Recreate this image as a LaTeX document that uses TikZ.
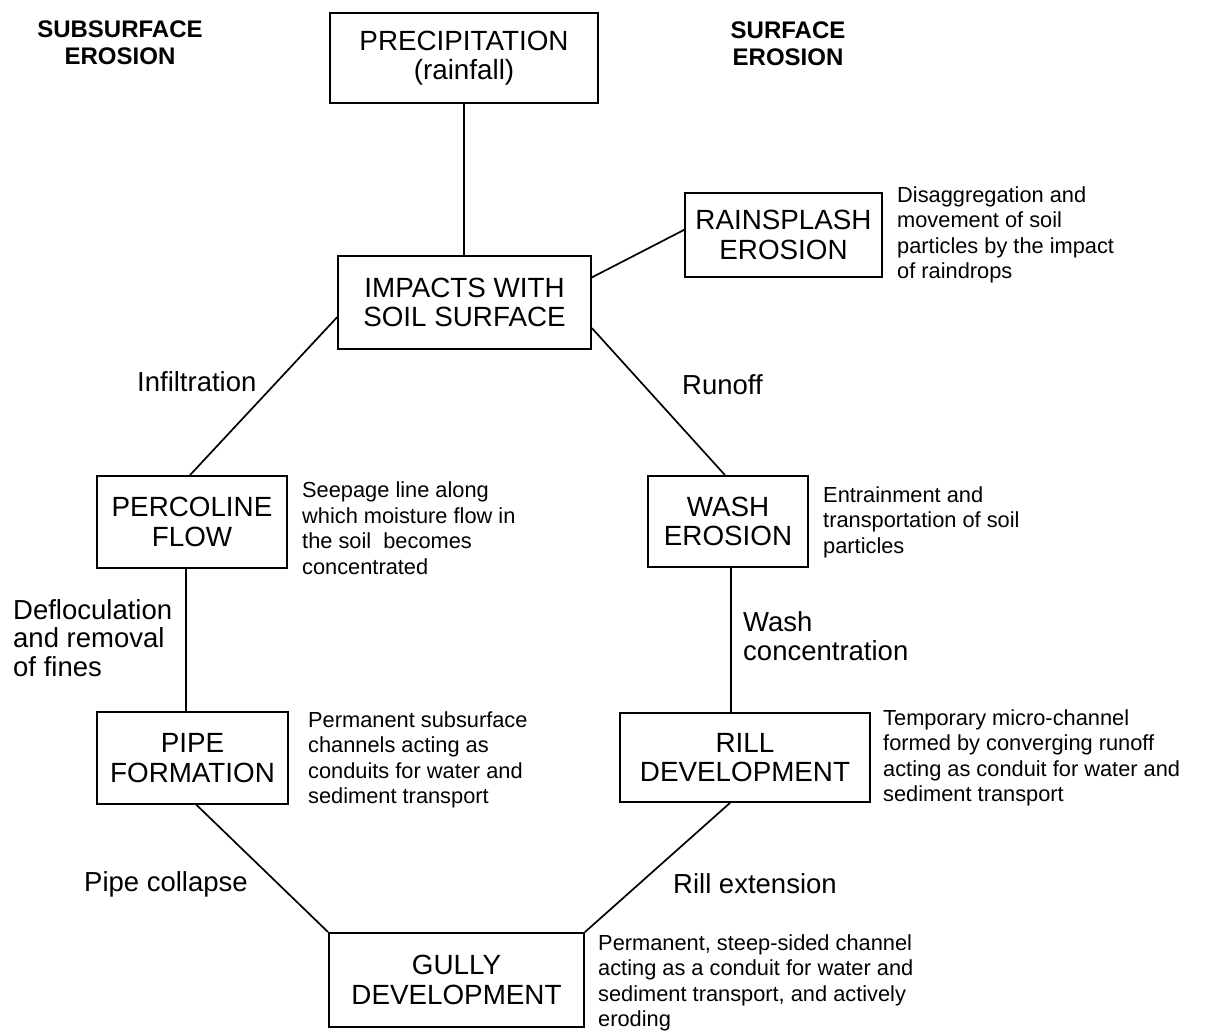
\documentclass[tikz,border=0pt]{standalone}
\usepackage{fontspec}
\setmainfont{Liberation Sans}
\usetikzlibrary{calc}
\begin{document}
\begin{tikzpicture}[x=1pt,y=-1pt,
  box/.style={draw,line width=1.8pt,inner sep=0pt,align=center,
    font=\fontsize{27.8}{29.5}\selectfont},
  desc/.style={anchor=west,inner sep=0pt,align=left,
    font=\fontsize{21.8}{25.5}\selectfont},
  lab/.style={anchor=west,inner sep=0pt,align=left,
    font=\fontsize{27.5}{28.5}\selectfont},
  head/.style={inner sep=0pt,align=center,
    font=\fontsize{24}{27}\bfseries\selectfont},
  conn/.style={line width=1.7pt}]
\useasboundingbox (0,0) rectangle (1217,1031);
% headings
\node[head] (hsub) at (120,43) {SUBSURFACE\\EROSION};
\node[head] (hsurf) at (788,44) {SURFACE\\EROSION};
% boxes
\node[box,minimum width=268,minimum height=90] (prec) at (464,58) {PRECIPITATION\\(rainfall)};
\node[box,minimum width=253,minimum height=93] (imp) at (464.5,302.5) {IMPACTS WITH\\SOIL SURFACE};
\node[box,minimum width=197,minimum height=84] (rain) at (783.5,235) {RAINSPLASH\\EROSION};
\node[box,minimum width=190,minimum height=92] (perc) at (192,522) {PERCOLINE\\FLOW};
\node[box,minimum width=160,minimum height=91] (wash) at (728,521.5) {WASH\\EROSION};
\node[box,minimum width=191,minimum height=92] (pipe) at (192.5,758) {PIPE\\FORMATION};
\node[box,minimum width=250,minimum height=89] (rill) at (745,757.5) {RILL\\DEVELOPMENT};
\node[box,minimum width=255,minimum height=94] (gully) at (456.5,980) {GULLY\\DEVELOPMENT};
% descriptions
\node[desc] (drain) at (897,235) {Disaggregation and\\movement of soil\\particles by the impact\\of raindrops};
\node[desc] (dperc) at (302,528) {Seepage line along\\which moisture flow in\\the soil\ \ becomes\\concentrated};
\node[desc] (dwash) at (823,522) {Entrainment and\\transportation of soil\\particles};
\node[desc] (dpipe) at (308,760) {Permanent subsurface\\channels acting as\\conduits for water and\\sediment transport};
\node[desc] (drill) at (883,758) {Temporary micro-channel\\formed by converging runoff\\acting as conduit for water and\\sediment transport};
\node[desc] (dgully) at (598,983) {Permanent, steep-sided channel\\acting as a conduit for water and\\sediment transport, and actively\\eroding};
% connector labels
\node[lab] (linf) at (137,382) {Infiltration};
\node[lab] (lrun) at (682,385) {Runoff};
\node[lab] (ldef) at (13,638) {Defloculation\\and removal\\of fines};
\node[lab] (lwc) at (743,636) {Wash\\concentration};
\node[lab] (lpc) at (84,884) {Pipe collapse};
\node[lab] (lre) at (673,884) {Rill extension};
% connectors
\draw[conn] (prec.south) -- (prec.south |- imp.north);
\coordinate (impR1) at ($(imp.north east)!0.235!(imp.south east)$);
\coordinate (impR2) at ($(imp.north east)!0.77!(imp.south east)$);
\coordinate (impL) at ($(imp.north west)!0.655!(imp.south west)$);
\coordinate (rainL) at ($(rain.north west)!0.44!(rain.south west)$);
\draw[conn] (impR1) -- (rainL);
\draw[conn] (impL) -- ([xshift=-2]perc.north);
\draw[conn] (impR2) -- ([xshift=-3]wash.north);
\draw[conn] ([xshift=-6]perc.south) -- ([xshift=-6]perc.south |- pipe.north);
\draw[conn] ([xshift=3]wash.south) -- ([xshift=3]wash.south |- rill.north);
\draw[conn] ([xshift=4]pipe.south) -- (gully.north west);
\draw[conn] ([xshift=-15]rill.south) -- (gully.north east);
\end{tikzpicture}
\end{document}
